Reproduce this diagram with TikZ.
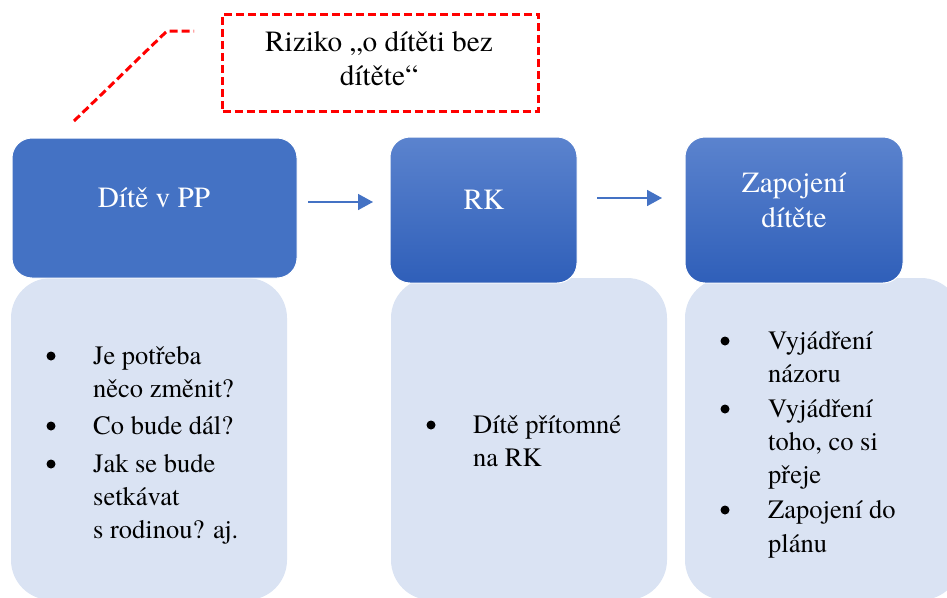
\documentclass[tikz,border=0pt]{standalone}
\usepackage{fontspec}
\newfontfamily\tnr{texgyretermes}[Extension=.otf, UprightFont=*-regular]
\usetikzlibrary{arrows.meta}
\definecolor{darkblue}{HTML}{4472C4}
\definecolor{gradtop}{HTML}{5B83CE}
\definecolor{gradbot}{HTML}{2F5FB9}
\definecolor{lightblue}{HTML}{DAE3F3}
\definecolor{callred}{HTML}{FF0000}
\tikzset{
  lightbox/.style={rectangle, rounded corners=40pt, fill=lightblue, draw=none, inner sep=0pt, outer sep=0pt, anchor=north west},
  darkbox/.style={rectangle, rounded corners=20pt, draw=white, line width=1pt, inner sep=0pt, outer sep=0pt, anchor=north west},
  flatbox/.style={darkbox, fill=darkblue},
  gradbox/.style={darkbox, top color=gradtop, bottom color=gradbot},
  headtxt/.style={anchor=base, text=white, inner sep=0pt, font=\tnr\fontsize{29.3}{35}\selectfont},
  risktxt/.style={anchor=base, text=black, inner sep=0pt, font=\tnr\fontsize{29.3}{34}\selectfont},
  listtxt/.style={anchor=base west, text=black, inner sep=0pt, font=\tnr\fontsize{26.5}{33}\selectfont},
  bul/.style={circle, fill=black, inner sep=0pt, minimum size=9pt},
  flowarrow/.style={draw=darkblue, line width=1.6pt, -{Triangle[length=15pt,width=16pt]}},
  reddash/.style={draw=callred, line width=3pt, dash pattern=on 8pt off 4pt}
}
\begin{document}
\begin{tikzpicture}[x=1pt,y=-1pt]
\useasboundingbox (0,0) rectangle (947,597);
% light boxes
\node[lightbox, minimum width=276pt, minimum height=322pt] (l1) at (11,278) {};
\node[lightbox, minimum width=276pt, minimum height=322pt] (l2) at (391,278) {};
\node[lightbox, minimum width=276pt, minimum height=322pt] (l3) at (685,278) {};
% dark boxes
\node[flatbox, minimum width=285pt, minimum height=140pt] (d1) at (12,138) {};
\node[gradbox, minimum width=187pt, minimum height=146pt] (d2) at (390,137) {};
\node[gradbox, minimum width=218pt, minimum height=146pt] (d3) at (685,137) {};
% head texts
\node[headtxt] (t1) at (154,207) {Dítě v PP};
\node[headtxt] (t2) at (484,209) {RK};
\node[headtxt] (t3a) at (794,192) {Zapojení};
\node[headtxt] (t3b) at (794,227) {dítěte};
% arrows
\coordinate (a1s) at (308,202);
\coordinate (a1e) at (373,202);
\coordinate (a2s) at (597,198);
\coordinate (a2e) at (662,198);
\draw[flowarrow] (a1s) -- (a1e);
\draw[flowarrow] (a2s) -- (a2e);
% risk callout
\node[reddash, rectangle, inner sep=0pt, anchor=north west, minimum width=316pt, minimum height=97pt] (risk) at (221,12.5) {};
\node[risktxt] (r1) at (379,51) {Riziko „o dítěti bez};
\node[risktxt] (r2) at (379,85) {dítěte“};
\coordinate (c1) at (74,121);
\coordinate (c2) at (167,31);
\coordinate (c3) at (194,31);
\draw[reddash] (c1) -- (c2) -- (c3);
% list 1
\node[bul] (b11) at (51,356) {};
\node[listtxt] (x11) at (93,364) {Je potřeba};
\node[listtxt] (x12) at (93,397) {něco změnit?};
\node[bul] (b12) at (51,426) {};
\node[listtxt] (x13) at (93,434) {Co bude dál?};
\node[bul] (b13) at (51,464) {};
\node[listtxt] (x14) at (93,472) {Jak se bude};
\node[listtxt] (x15) at (93,505) {setkávat};
\node[listtxt] (x16) at (93,538) {s rodinou? aj.};
% list 2
\node[bul] (b21) at (431,425) {};
\node[listtxt] (x21) at (473,433) {Dítě přítomné};
\node[listtxt] (x22) at (473,466) {na RK};
% list 3
\node[bul] (b31) at (725,341) {};
\node[listtxt] (x31) at (768,349) {Vyjádření};
\node[listtxt] (x32) at (768,382) {názoru};
\node[bul] (b32) at (725,409) {};
\node[listtxt] (x33) at (768,417) {Vyjádření};
\node[listtxt] (x34) at (768,450) {toho, co si};
\node[listtxt] (x35) at (768,483) {přeje};
\node[bul] (b33) at (725,510) {};
\node[listtxt] (x36) at (768,518) {Zapojení do};
\node[listtxt] (x37) at (768,552) {plánu};
\end{tikzpicture}
\end{document}
